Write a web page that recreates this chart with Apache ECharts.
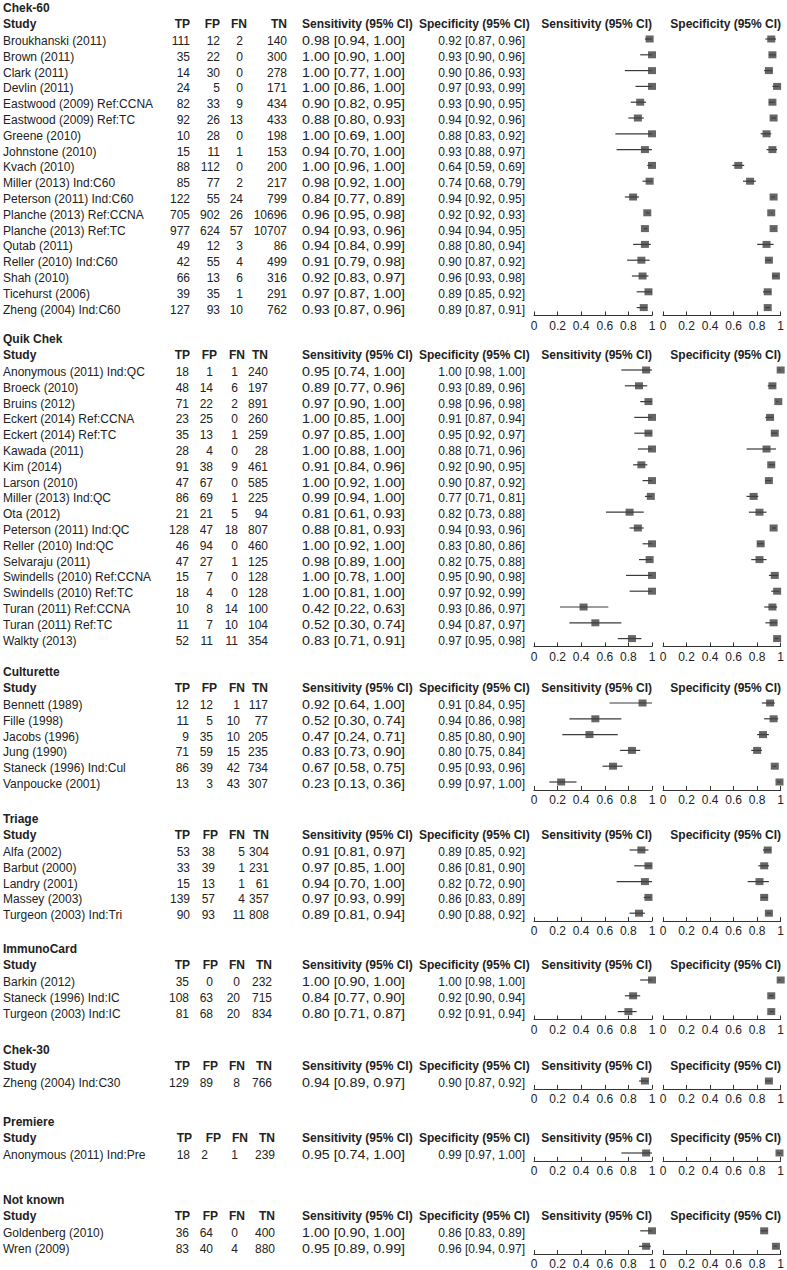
<!DOCTYPE html>
<html>
<head>
<meta charset="utf-8">
<script src="https://cdn.jsdelivr.net/npm/echarts@6/dist/echarts.min.js"></script>
<style>
  html, body { margin: 0; padding: 0; background: #fff; }
  #main { width: 787px; height: 1270px; }
</style>
</head>
<body>
<div id="main"></div>
<script>
// ---- data ----
var groups = ['Chek-60', 'Quik Chek', 'Culturette', 'Triage', 'ImmunoCard', 'Chek-30', 'Premiere', 'Not known'];
var groupSize = [18, 18, 6, 5, 3, 1, 1, 2];

var study = [
    'Broukhanski (2011)', 'Brown (2011)', 'Clark (2011)', 'Devlin (2011)', 'Eastwood (2009) Ref:CCNA',
    'Eastwood (2009) Ref:TC', 'Greene (2010)', 'Johnstone (2010)', 'Kvach (2010)', 'Miller (2013) Ind:C60',
    'Peterson (2011) Ind:C60', 'Planche (2013) Ref:CCNA', 'Planche (2013) Ref:TC', 'Qutab (2011)',
    'Reller (2010) Ind:C60', 'Shah (2010)', 'Ticehurst (2006)', 'Zheng (2004) Ind:C60',
    'Anonymous (2011) Ind:QC', 'Broeck (2010)', 'Bruins (2012)', 'Eckert (2014) Ref:CCNA', 'Eckert (2014) Ref:TC',
    'Kawada (2011)', 'Kim (2014)', 'Larson (2010)', 'Miller (2013) Ind:QC', 'Ota (2012)', 'Peterson (2011) Ind:QC',
    'Reller (2010) Ind:QC', 'Selvaraju (2011)', 'Swindells (2010) Ref:CCNA', 'Swindells (2010) Ref:TC',
    'Turan (2011) Ref:CCNA', 'Turan (2011) Ref:TC', 'Walkty (2013)',
    'Bennett (1989)', 'Fille (1998)', 'Jacobs (1996)', 'Jung (1990)', 'Staneck (1996) Ind:Cul', 'Vanpoucke (2001)',
    'Alfa (2002)', 'Barbut (2000)', 'Landry (2001)', 'Massey (2003)', 'Turgeon (2003) Ind:Tri',
    'Barkin (2012)', 'Staneck (1996) Ind:IC', 'Turgeon (2003) Ind:IC',
    'Zheng (2004) Ind:C30',
    'Anonymous (2011) Ind:Pre',
    'Goldenberg (2010)', 'Wren (2009)'
];
var tp = [111, 35, 14, 24, 82, 92, 10, 15, 88, 85, 122, 705, 977, 49, 42, 66, 39, 127,
    18, 48, 71, 23, 35, 28, 91, 47, 86, 21, 128, 46, 47, 15, 18, 10, 11, 52,
    12, 11, 9, 71, 86, 13,
    53, 33, 15, 139, 90,
    35, 108, 81,
    129,
    18,
    36, 83];
var fp = [12, 22, 30, 5, 33, 26, 28, 11, 112, 77, 55, 902, 624, 12, 55, 13, 35, 93,
    1, 14, 22, 25, 13, 4, 38, 67, 69, 21, 47, 94, 27, 7, 4, 8, 7, 11,
    12, 5, 35, 59, 39, 3,
    38, 39, 13, 57, 93,
    0, 63, 68,
    89,
    2,
    64, 40];
var fn = [2, 0, 0, 0, 9, 13, 0, 1, 0, 2, 24, 26, 57, 3, 4, 6, 1, 10,
    1, 6, 2, 0, 1, 0, 9, 0, 1, 5, 18, 0, 1, 0, 0, 14, 10, 11,
    1, 10, 10, 15, 42, 43,
    5, 1, 1, 4, 11,
    0, 20, 20,
    8,
    1,
    0, 4];
var tn = [140, 300, 278, 171, 434, 433, 198, 153, 200, 217, 799, 10696, 10707, 86, 499, 316, 291, 762,
    240, 197, 891, 260, 259, 28, 461, 585, 225, 94, 807, 460, 125, 128, 128, 100, 104, 354,
    117, 77, 205, 235, 734, 307,
    304, 231, 61, 357, 808,
    232, 715, 834,
    766,
    239,
    400, 880];
var sens = [0.98, 1.00, 1.00, 1.00, 0.90, 0.88, 1.00, 0.94, 1.00, 0.98, 0.84, 0.96, 0.94, 0.94, 0.91, 0.92, 0.97, 0.93,
    0.95, 0.89, 0.97, 1.00, 0.97, 1.00, 0.91, 1.00, 0.99, 0.81, 0.88, 1.00, 0.98, 1.00, 1.00, 0.42, 0.52, 0.83,
    0.92, 0.52, 0.47, 0.83, 0.67, 0.23,
    0.91, 0.97, 0.94, 0.97, 0.89,
    1.00, 0.84, 0.80,
    0.94,
    0.95,
    1.00, 0.95];
var sensLo = [0.94, 0.90, 0.77, 0.86, 0.82, 0.80, 0.69, 0.70, 0.96, 0.92, 0.77, 0.95, 0.93, 0.84, 0.79, 0.83, 0.87, 0.87,
    0.74, 0.77, 0.90, 0.85, 0.85, 0.88, 0.84, 0.92, 0.94, 0.61, 0.81, 0.92, 0.89, 0.78, 0.81, 0.22, 0.30, 0.71,
    0.64, 0.30, 0.24, 0.73, 0.58, 0.13,
    0.81, 0.85, 0.70, 0.93, 0.81,
    0.90, 0.77, 0.71,
    0.89,
    0.74,
    0.90, 0.89];
var sensHi = [1.00, 1.00, 1.00, 1.00, 0.95, 0.93, 1.00, 1.00, 1.00, 1.00, 0.89, 0.98, 0.96, 0.99, 0.98, 0.97, 1.00, 0.96,
    1.00, 0.96, 1.00, 1.00, 1.00, 1.00, 0.96, 1.00, 1.00, 0.93, 0.93, 1.00, 1.00, 1.00, 1.00, 0.63, 0.74, 0.91,
    1.00, 0.74, 0.71, 0.90, 0.75, 0.36,
    0.97, 1.00, 1.00, 0.99, 0.94,
    1.00, 0.90, 0.87,
    0.97,
    1.00,
    1.00, 0.99];
var spec = [0.92, 0.93, 0.90, 0.97, 0.93, 0.94, 0.88, 0.93, 0.64, 0.74, 0.94, 0.92, 0.94, 0.88, 0.90, 0.96, 0.89, 0.89,
    1.00, 0.93, 0.98, 0.91, 0.95, 0.88, 0.92, 0.90, 0.77, 0.82, 0.94, 0.83, 0.82, 0.95, 0.97, 0.93, 0.94, 0.97,
    0.91, 0.94, 0.85, 0.80, 0.95, 0.99,
    0.89, 0.86, 0.82, 0.86, 0.90,
    1.00, 0.92, 0.92,
    0.90,
    0.99,
    0.86, 0.96];
var specLo = [0.87, 0.90, 0.86, 0.93, 0.90, 0.92, 0.83, 0.88, 0.59, 0.68, 0.92, 0.92, 0.94, 0.80, 0.87, 0.93, 0.85, 0.87,
    0.98, 0.89, 0.96, 0.87, 0.92, 0.71, 0.90, 0.87, 0.71, 0.73, 0.93, 0.80, 0.75, 0.90, 0.92, 0.86, 0.87, 0.95,
    0.84, 0.86, 0.80, 0.75, 0.93, 0.97,
    0.85, 0.81, 0.72, 0.83, 0.88,
    0.98, 0.90, 0.91,
    0.87,
    0.97,
    0.83, 0.94];
var specHi = [0.96, 0.96, 0.93, 0.99, 0.95, 0.96, 0.92, 0.97, 0.69, 0.79, 0.95, 0.93, 0.95, 0.94, 0.92, 0.98, 0.92, 0.91,
    1.00, 0.96, 0.98, 0.94, 0.97, 0.96, 0.95, 0.92, 0.81, 0.88, 0.96, 0.86, 0.88, 0.98, 0.99, 0.97, 0.97, 0.98,
    0.95, 0.98, 0.90, 0.84, 0.96, 1.00,
    0.92, 0.90, 0.90, 0.89, 0.92,
    1.00, 0.94, 0.94,
    0.92,
    1.00,
    0.89, 0.97];

// ---- layout ----
var FONT = '"Liberation Sans", Arial, sans-serif';
var INK = '#222';
var ROW = 15.8;
var firstRowY = [41, 372, 705, 852, 982, 1083, 1155, 1233];
// right edges of the TP / FP / FN / TN value columns, and of their headings
var colRight = [
    [190, 220, 243, 287], [189, 213, 238, 268], [189, 213, 240, 268], [190, 215, 245, 269],
    [189, 213, 240, 272], [189, 213, 240, 272], [190, 208, 238, 275], [189, 213, 238, 275]
];
var headRight = [
    [190, 220, 247, 287], [190, 217, 245, 268], [190, 217, 245, 268], [190, 218, 245, 269],
    [190, 218, 245, 272], [190, 218, 245, 272], [192, 221, 248, 275], [190, 218, 245, 275]
];
var SENS_LEFT = 534, SPEC_LEFT = 663, PLOT_W = 118;
var SENS_TXT_X = 302, SENS_TXT_STRETCH = 1.19, SPEC_TXT = 525;

function ci(v, a, b) {
    return v.toFixed(2) + ' [' + a.toFixed(2) + ', ' + b.toFixed(2) + ']';
}

function renderCI(params, api) {
    var a = api.coord([api.value(0), api.value(2)]);
    var b = api.coord([api.value(1), api.value(2)]);
    return {
        type: 'line',
        shape: { x1: a[0], y1: a[1], x2: b[0], y2: b[1] },
        style: { stroke: '#3a3a3a', lineWidth: 1.2 }
    };
}

// sensitivity column of the table is set wider in the source figure
function renderSensText(params, api) {
    var i = api.value(0), k = api.value(1);
    var p = api.coord([0, k]);
    return {
        type: 'text', x: SENS_TXT_X, y: p[1], scaleX: SENS_TXT_STRETCH,
        style: {
            text: ci(sens[i], sensLo[i], sensHi[i]), font: '12px ' + FONT, fill: INK,
            align: 'left', verticalAlign: 'middle', textAlign: 'left', textVerticalAlign: 'middle'
        }
    };
}

function label(txt, x, y, align) {
    return {
        type: 'text', x: x, y: y,
        style: {
            text: txt, font: 'bold 12px ' + FONT, fill: INK,
            align: align, verticalAlign: 'middle',
            textAlign: align, textVerticalAlign: 'middle'
        }
    };
}

var grid = [], xAxis = [], yAxis = [], series = [], graphic = [];
var start = 0;

groups.forEach(function (name, g) {
    var n = groupSize[g];
    var idx = [];
    for (var k = 0; k < n; k++) idx.push(String(start + k));
    var top = firstRowY[g] - 2 - ROW / 2;
    var h = n * ROW;
    var s0 = start;

    [SENS_LEFT, SPEC_LEFT].forEach(function (left, p) {
        var gi = grid.length;
        grid.push({ left: left, top: top, width: PLOT_W, height: h });
        xAxis.push({
            gridIndex: gi, type: 'value', min: 0, max: 1, interval: 0.2,
            splitLine: { show: false },
            axisLine: { show: true, lineStyle: { color: '#333', width: 1 } },
            axisTick: { show: true, inside: true, length: 4, lineStyle: { color: '#333' } },
            axisLabel: { margin: 4, fontSize: 12, fontFamily: FONT, color: INK }
        });
        yAxis.push({ gridIndex: gi, type: 'category', data: idx, inverse: true, show: false });
        var xi = xAxis.length - 1, yi = yAxis.length - 1;
        var est = p ? spec : sens, lo = p ? specLo : sensLo, hi = p ? specHi : sensHi;
        var ciData = [], ptData = [];
        for (var k = 0; k < n; k++) {
            ciData.push([lo[s0 + k], hi[s0 + k], k]);
            ptData.push([est[s0 + k], k]);
        }
        series.push({
            type: 'custom', xAxisIndex: xi, yAxisIndex: yi,
            renderItem: renderCI, encode: { x: [0, 1], y: 2 }, data: ciData, silent: true
        });
        series.push({
            type: 'scatter', xAxisIndex: xi, yAxisIndex: yi, clip: false,
            symbol: 'rect', symbolSize: [8, 7], itemStyle: { color: '#404040' },
            data: ptData, silent: true
        });
    });

    // table text, drawn as category labels of a hidden grid
    var ti = grid.length;
    grid.push({ left: SENS_LEFT, top: top + 2, width: PLOT_W, height: h });
    xAxis.push({ gridIndex: ti, type: 'value', min: 0, max: 1, show: false });
    var txi = xAxis.length - 1, tyi = yAxis.length;
    var cols = [
        { x: 3, align: 'left', f: function (i) { return study[i]; } },
        { x: colRight[g][0], align: 'right', f: function (i) { return String(tp[i]); } },
        { x: colRight[g][1], align: 'right', f: function (i) { return String(fp[i]); } },
        { x: colRight[g][2], align: 'right', f: function (i) { return String(fn[i]); } },
        { x: colRight[g][3], align: 'right', f: function (i) { return String(tn[i]); } },
        { x: SPEC_TXT, align: 'right', f: function (i) { return ci(spec[i], specLo[i], specHi[i]); } }
    ];
    cols.forEach(function (c) {
        yAxis.push({
            gridIndex: ti, type: 'category', data: idx, inverse: true, position: 'left',
            axisLine: { show: false }, axisTick: { show: false }, splitLine: { show: false },
            axisLabel: {
                interval: 0, align: c.align, margin: SENS_LEFT - c.x,
                fontSize: 12, fontFamily: FONT, color: INK,
                formatter: function (v) { return c.f(+v); }
            }
        });
    });
    var sensRows = [];
    for (var k2 = 0; k2 < n; k2++) sensRows.push([s0 + k2, k2]);
    series.push({
        type: 'custom', xAxisIndex: txi, yAxisIndex: tyi, renderItem: renderSensText,
        encode: { y: 1 }, data: sensRows, silent: true, clip: false
    });

    // headings
    var titleY = firstRowY[g] - 33, headY = firstRowY[g] - 17;
    graphic.push(label(name, 3, titleY, 'left'));
    graphic.push(label('Study', 3, headY, 'left'));
    ['TP', 'FP', 'FN', 'TN'].forEach(function (t, c) {
        graphic.push(label(t, headRight[g][c], headY, 'right'));
    });
    graphic.push(label('Sensitivity (95% CI)', 302, headY, 'left'));
    graphic.push(label('Specificity (95% CI)', 419, headY, 'left'));
    graphic.push(label('Sensitivity (95% CI)', SENS_LEFT + PLOT_W, headY, 'right'));
    graphic.push(label('Specificity (95% CI)', SPEC_LEFT + PLOT_W, headY, 'right'));

    start += n;
});

var chart = echarts.init(document.getElementById('main'), null, { renderer: 'svg' });
chart.setOption({
    animation: false,
    backgroundColor: '#fff',
    grid: grid,
    xAxis: xAxis,
    yAxis: yAxis,
    series: series,
    graphic: { elements: graphic }
});
</script>
</body>
</html>
